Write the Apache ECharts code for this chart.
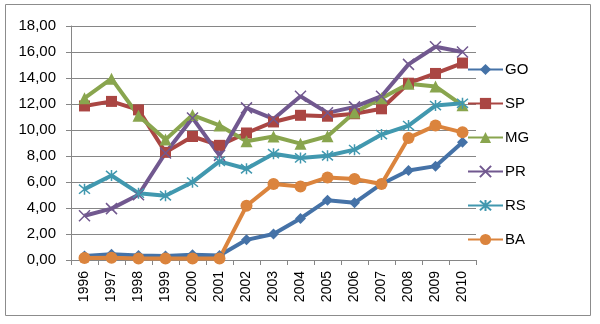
<!DOCTYPE html>
<html>
<head>
<meta charset="utf-8">
<script src="https://cdn.jsdelivr.net/npm/echarts@6/dist/echarts.min.js"></script>
<style>
  html, body { margin: 0; padding: 0; background: #fff; }
  #chart { width: 600px; height: 324px; }
</style>
</head>
<body>
<div id="chart"></div>
<script>
// Annual values per state, 1996-2010
const years = ['1996','1997','1998','1999','2000','2001','2002','2003','2004','2005','2006','2007','2008','2009','2010'];
const GO = [0.30, 0.45, 0.35, 0.30, 0.40, 0.35, 1.55, 2.00, 3.20, 4.60, 4.40, 5.85, 6.88, 7.22, 9.05];
const SP = [11.85, 12.20, 11.55, 8.28, 9.50, 8.82, 9.77, 10.62, 11.13, 11.06, 11.25, 11.63, 13.60, 14.35, 15.15];
const MG = [12.45, 13.95, 11.10, 9.26, 11.15, 10.35, 9.13, 9.50, 8.95, 9.52, 11.35, 12.45, 13.55, 13.35, 11.90];
const PR = [3.40, 3.95, 5.02, 8.23, 10.93, 8.05, 11.70, 10.85, 12.60, 11.32, 11.78, 12.60, 15.05, 16.40, 16.00];
const RS = [5.45, 6.50, 5.14, 4.94, 5.99, 7.59, 7.02, 8.18, 7.85, 8.02, 8.49, 9.65, 10.34, 11.88, 12.05];
const BA = [0.15, 0.18, 0.12, 0.12, 0.12, 0.12, 4.17, 5.84, 5.66, 6.35, 6.23, 5.84, 9.39, 10.34, 9.82];
const yTicks = { min: 0, max: 18, step: 2 };

const FONT = '"Liberation Sans", Arial, sans-serif';
const crossPath = 'path://M0,0L10,10M10,0L0,10';
const starPath = 'path://M0,0L10,10M10,0L0,10M5,-1L5,11';

function mk(name, data, color, symbol, size, stroked) {
  return {
    name, type: 'line', data,
    symbol, symbolSize: size,
    showSymbol: true,
    lineStyle: { color, width: 4 },
    itemStyle: stroked
      ? { color: 'rgba(0,0,0,0)', borderColor: color, borderWidth: 1.5 }
      : { color, borderWidth: 0 },
    emphasis: { disabled: true },
    animation: false
  };
}

const chart = echarts.init(document.getElementById('chart'), null, { renderer: 'canvas' });
chart.setOption({
  animation: false,
  backgroundColor: '#fff',
  graphic: [{
    type: 'rect', shape: { x: 5.5, y: 4.5, width: 585, height: 311 },
    style: { fill: 'none', stroke: '#8c8c8c', lineWidth: 1 }, silent: true
  }],
  grid: { left: 71, right: 124, top: 26, bottom: 64, containLabel: false },
  legend: {
    orient: 'vertical', left: 467, top: 62, padding: 0,
    itemWidth: 35, itemHeight: 14, itemGap: 19,
    textStyle: { fontFamily: FONT, fontSize: 15, lineHeight: 14, color: '#000', padding: [0, 0, 0, -3] },
    data: ['GO', 'SP', 'MG', 'PR', 'RS', 'BA']
  },
  xAxis: {
    type: 'category', data: years, boundaryGap: true,
    axisLine: { show: true, lineStyle: { color: '#868686', width: 1 } },
    axisTick: { show: true, length: 5, interval: 0, lineStyle: { color: '#868686' } },
    axisLabel: { rotate: 90, interval: 0, fontFamily: FONT, fontSize: 14, color: '#000', margin: 11 },
    splitLine: { show: false }
  },
  yAxis: {
    type: 'value', min: yTicks.min, max: yTicks.max, interval: yTicks.step,
    axisLine: { show: true, lineStyle: { color: '#868686', width: 1 } },
    axisTick: { show: true, length: 5, lineStyle: { color: '#868686' } },
    axisLabel: {
      fontFamily: FONT, fontSize: 15, color: '#000', margin: 15,
      formatter: v => v.toFixed(2).replace('.', ',')
    },
    splitLine: { show: true, lineStyle: { color: '#868686', width: 1 } }
  },
  series: [
    mk('GO', GO, '#4572A7', 'diamond', 11, false),
    mk('SP', SP, '#AA4643', 'rect', 11, false),
    mk('MG', MG, '#89A54E', 'triangle', 12, false),
    mk('PR', PR, '#71588F', crossPath, 11, true),
    mk('RS', RS, '#4198AF', starPath, 11, true),
    mk('BA', BA, '#DB843D', 'circle', 12, false)
  ]
});
</script>
</body>
</html>
